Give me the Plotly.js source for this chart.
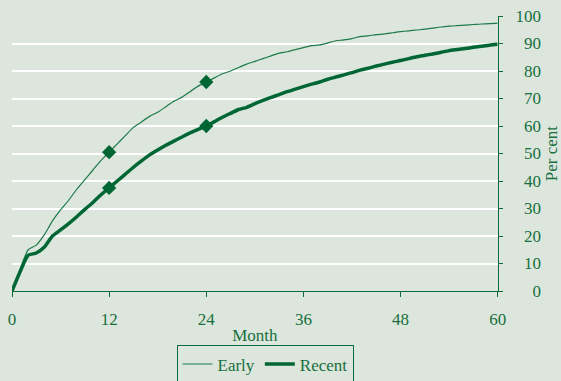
<!DOCTYPE html>
<html>
<head>
<meta charset="utf-8">
<script src="https://cdn.plot.ly/plotly-3.0.1.min.js"></script>
<style>html,body{margin:0;padding:0;background:#dde6dc;}#chart{width:561px;height:381px;}</style>
</head>
<body>
<div id="chart"></div>
<script>
var months = [];
for (var i = 0; i <= 60; i++) months.push(i);
var early = [0,8,15,16.7,20.5,25.5,29.5,33,37,40.5,44,47.5,50.5,53.5,56.5,59.5,61.5,63.5,65,67,69,70.5,72.5,74.5,76,77.5,79,80,81.3,82.5,83.5,84.5,85.5,86.5,87,87.8,88.5,89.2,89.5,90.2,91,91.3,91.8,92.5,92.8,93.2,93.5,93.9,94.3,94.6,94.9,95.2,95.6,96,96.3,96.5,96.7,96.9,97.1,97.2,97.4];
var recent = [0,7,13,13.8,16,20,22.2,24.5,27,29.7,32.2,35,37.5,40,42.5,45,47.3,49.5,51.3,53,54.5,56,57.5,58.8,60,61.6,63.2,64.6,66,66.8,68.1,69.3,70.4,71.4,72.5,73.4,74.3,75.2,76,77,77.8,78.6,79.4,80.3,81,81.8,82.5,83.2,83.8,84.5,85.2,85.7,86.2,86.8,87.4,87.8,88.2,88.6,89,89.4,89.7];
var markerMonths = [12, 24];
var xTicks = [0, 12, 24, 36, 48, 60];
var seriesNames = ['Early', 'Recent'];

var green = '#0b6b3a';
var textGreen = '#16703e';
var font = {family: 'Liberation Serif, serif', size: 17, color: textGreen};

var traces = [
  {x: months, y: early, name: seriesNames[0], mode: 'lines', line: {color: '#1c7a48', width: 1.2, shape: 'spline', smoothing: 0.6}},
  {x: months, y: recent, name: seriesNames[1], mode: 'lines', line: {color: '#006633', width: 3.5, shape: 'spline', smoothing: 0.6}},
  {x: markerMonths, y: markerMonths.map(function(m){return early[m];}), mode: 'markers', showlegend: false, yaxis: 'y2',
   marker: {symbol: 'diamond', size: 11, color: '#006633'}},
  {x: markerMonths, y: markerMonths.map(function(m){return recent[m];}), mode: 'markers', showlegend: false, yaxis: 'y2',
   marker: {symbol: 'diamond', size: 11, color: '#006633'}}
];

var W = 561, L = 12, R = 10;
var pw = W - L - R;
var plotRight = 497.7;

var layout = {
  width: 561, height: 381,
  margin: {l: L, r: R, t: 16, b: 90, autoexpand: false},
  paper_bgcolor: '#dde6dc',
  plot_bgcolor: '#dde6dc',
  font: font,
  showlegend: true,
  xaxis: {
    domain: [0, (plotRight - L) / pw], automargin: false,
    range: [0, 60], tickvals: xTicks, ticks: 'outside', ticklen: 5, tickcolor: green,
    showline: true, linecolor: green, linewidth: 1, showgrid: false, zeroline: false,
    tickfont: font, ticklabelstandoff: 8,
    title: {text: 'Month', font: font, standoff: 0}
  },
  yaxis: {
    side: 'right', range: [0, 100], dtick: 10, ticks: 'outside', ticklen: 4, tickcolor: green,
    showline: true, linecolor: green, linewidth: 1, showgrid: true, gridcolor: '#ffffff', gridwidth: 2,
    zeroline: false, showticklabels: false, automargin: false,
    title: {text: 'Per cent', font: font, standoff: 47}
  },
  yaxis2: {
    overlaying: 'y', side: 'left', anchor: 'free', position: (541 - L) / pw, automargin: false,
    range: [0, 100], dtick: 10, ticks: '', showline: false, showgrid: false, zeroline: false,
    tickfont: font
  },
  legend: {
    orientation: 'h', x: (265 - L) / pw, xanchor: 'center', y: -0.198, yanchor: 'top',
    bgcolor: '#dde6dc', bordercolor: green, borderwidth: 1, font: font,
    itemwidth: 30
  }
};

Plotly.newPlot('chart', traces, layout, {staticPlot: true, displayModeBar: false});
</script>
</body>
</html>
